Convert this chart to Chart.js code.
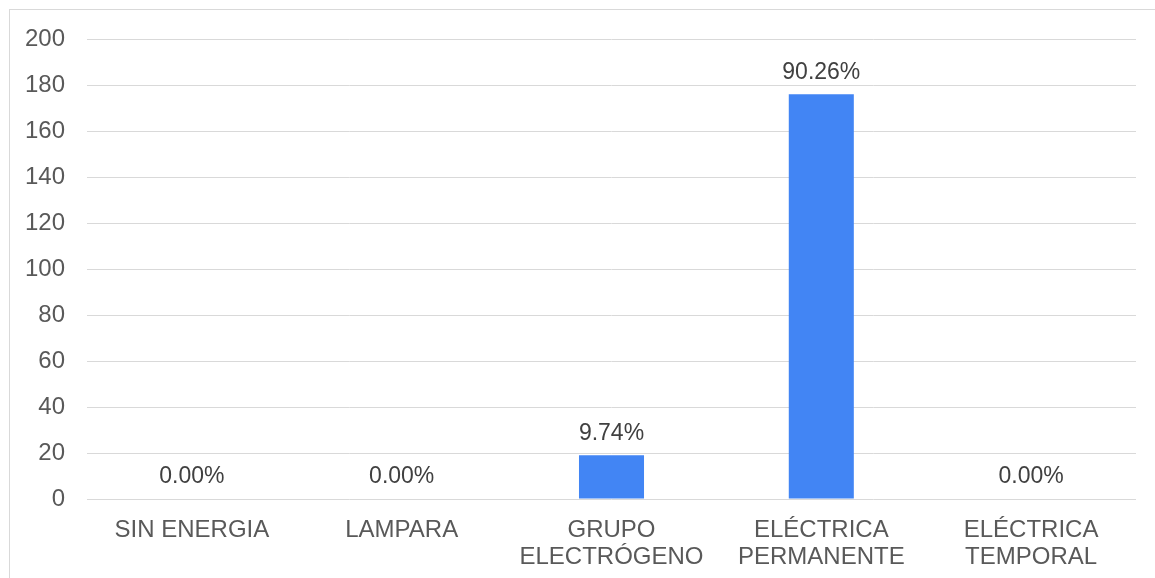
<!DOCTYPE html>
<html>
<head>
<meta charset="utf-8">
<script src="https://cdn.jsdelivr.net/npm/chart.js@4/dist/chart.umd.min.js"></script>
<style>
  html, body { margin: 0; padding: 0; background: #ffffff; }
  #wrap { position: relative; width: 1155px; height: 578px; overflow: hidden; }
  canvas { display: block; }
</style>
</head>
<body>
<div id="wrap"><canvas id="c" width="1155" height="578"></canvas></div>
<script>
// Tipo de energía en la vivienda (número de viviendas)
const categories = [
  ['SIN ENERGIA'],
  ['LAMPARA'],
  ['GRUPO', 'ELECTRÓGENO'],
  ['ELÉCTRICA', 'PERMANENTE'],
  ['ELÉCTRICA', 'TEMPORAL']
];
const counts = [0, 0, 19, 176, 0];
const yTicks = [0, 20, 40, 60, 80, 100, 120, 140, 160, 180, 200];

const total = counts.reduce((a, b) => a + b, 0);
const pctLabels = counts.map(v => (v / total * 100).toFixed(2) + '%');

const FONT = '"Liberation Sans", Arial, sans-serif';

// light frame around the chart
const framePlugin = {
  id: 'frame',
  beforeDraw(chart) {
    const ctx = chart.ctx;
    ctx.save();
    ctx.strokeStyle = '#d9d9d9';
    ctx.lineWidth = 1;
    ctx.strokeRect(9.5, 9.5, 3000, 3000);
    ctx.restore();
  }
};

// percentage above each bar
const valueLabels = {
  id: 'valueLabels',
  afterDatasetsDraw(chart) {
    const ctx = chart.ctx;
    const meta = chart.getDatasetMeta(0);
    ctx.save();
    ctx.font = '23px ' + FONT;
    ctx.fillStyle = '#404040';
    ctx.textAlign = 'center';
    ctx.textBaseline = 'middle';
    meta.data.forEach((bar, i) => {
      ctx.fillText(pctLabels[i], bar.x, bar.y - 22);
    });
    ctx.restore();
  }
};

new Chart(document.getElementById('c'), {
  type: 'bar',
  data: {
    labels: categories,
    datasets: [{
      data: counts,
      backgroundColor: '#4285f4',
      borderWidth: 0,
      categoryPercentage: 1,
      barPercentage: 0.31
    }]
  },
  options: {
    responsive: false,
    animation: false,
    devicePixelRatio: 1,
    layout: { padding: { top: 39, right: 19, bottom: 0, left: 0 } },
    plugins: { legend: { display: false }, tooltip: { enabled: false } },
    scales: {
      x: {
        grid: { display: false },
        border: { display: false },
        ticks: {
          color: '#595959',
          font: { family: FONT, size: 24, lineHeight: 1.125 },
          padding: 10,
          maxRotation: 0,
          autoSkip: false
        },
        afterFit(scale) { scale.height = 79; }
      },
      y: {
        min: 0,
        max: 200,
        afterBuildTicks(scale) { scale.ticks = yTicks.map(v => ({ value: v })); },
        grid: { color: '#d9d9d9', lineWidth: 1, drawTicks: false },
        border: { display: false },
        ticks: {
          color: '#595959',
          font: { family: FONT, size: 24 },
          padding: 22
        },
        afterFit(scale) { scale.width = 87; }
      }
    }
  },
  plugins: [framePlugin, valueLabels]
});
</script>
</body>
</html>
